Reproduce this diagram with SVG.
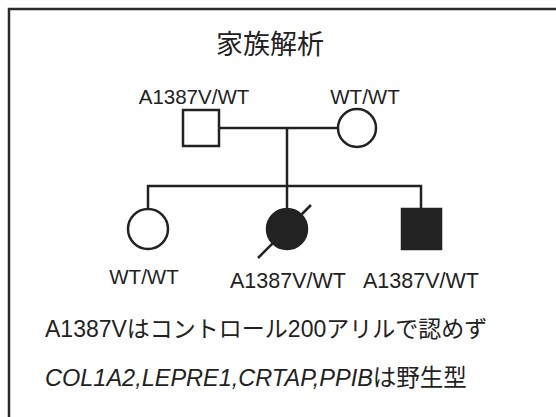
<svg xmlns="http://www.w3.org/2000/svg" width="556" height="417" viewBox="0 0 556 417">
<style>
.t{font-family:"Liberation Sans","Noto Sans CJK JP",sans-serif;fill:#222}
.lbl{font-size:20.5px;text-anchor:middle}
.lb2{font-size:21.5px;text-anchor:middle}
.sym{fill:#fff;stroke:#222;stroke-width:2.5}
.aff{fill:#222;stroke:#222;stroke-width:2.5}
.ln{fill:none;stroke:#222;stroke-width:2.5}
</style>
<rect x="0" y="0" width="556" height="417" fill="#fff"/>
<rect x="9" y="9" width="560" height="420" fill="none" stroke="#2a2a2a" stroke-width="2.5"/>
<text class="t" x="270" y="54" font-size="27" text-anchor="middle">家族解析</text>
<g id="connectors">
<path class="ln" d="M219 128H338"/>
<path class="ln" d="M287 128V210"/>
<path class="ln" d="M148 209V186H421V209"/>
</g>
<g id="father">
<rect class="sym" x="183" y="110" width="36" height="36"/>
<text class="t lbl" x="194" y="104">A1387V/WT</text>
</g>
<g id="mother">
<circle class="sym" cx="357" cy="128" r="19"/>
<text class="t lbl" x="365" y="104">WT/WT</text>
</g>
<g id="sister">
<circle class="sym" cx="148" cy="229" r="20"/>
<text class="t lbl" x="144" y="284">WT/WT</text>
</g>
<g id="proband">
<circle class="aff" cx="287" cy="229" r="20"/>
<path class="ln" d="M258 258L311 205"/>
<text class="t lb2" x="288" y="288">A1387V/WT</text>
</g>
<g id="brother">
<rect class="aff" x="402" y="209" width="39" height="40"/>
<text class="t lb2" x="421" y="288">A1387V/WT</text>
</g>
<text class="t" x="45" y="337" font-size="23">A1387Vはコントロール200アリルで認めず</text>
<text class="t" x="45" y="386" font-size="23.5"><tspan font-style="italic">COL1A2,LEPRE1,CRTAP,PPIB</tspan>は野生型</text>
</svg>
